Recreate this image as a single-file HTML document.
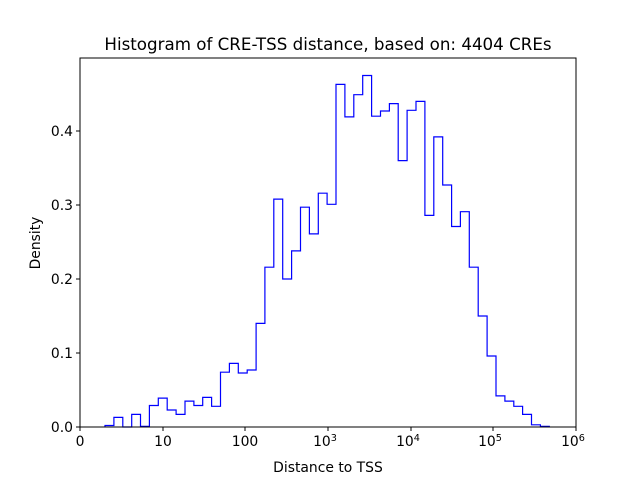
<!DOCTYPE html>
<html><head><meta charset="utf-8"><style>
body{margin:0;background:#fff;}
svg{display:block;font-family:"DejaVu Sans","Liberation Sans",sans-serif;}
</style></head><body>
<svg id="s" width="640" height="480" xmlns="http://www.w3.org/2000/svg">
<rect width="640" height="480" fill="#fff"/>
<text x="328" y="50" font-size="16.7" text-anchor="middle">Histogram of CRE-TSS distance, based on: 4404 CREs</text>
<path id="h" fill="none" stroke="#0000ff" stroke-width="1.2"/>
<rect x="80" y="58" width="496" height="369" fill="none" stroke="#000" stroke-width="1"/>
<g id="t" font-size="13.9"></g>
<text x="328" y="472" font-size="13.9" text-anchor="middle">Distance to TSS</text>
<text transform="translate(40,243) rotate(-90)" font-size="13.9" text-anchor="middle">Density</text>
</svg>
<script>
var v=[0.002,0.013,0,0.017,0.001,0.029,0.039,0.023,0.017,0.035,0.029,0.040,0.028,0.074,0.086,0.073,0.077,0.140,0.216,0.308,0.200,0.238,0.297,0.261,0.316,0.301,0.463,0.419,0.449,0.475,0.420,0.427,0.437,0.360,0.428,0.440,0.286,0.392,0.327,0.271,0.291,0.216,0.150,0.096,0.042,0.035,0.028,0.017,0.003,0.001];
var x0=105,w=8.886,d="M"+x0+",427";
for(var i=0;i<v.length;i++){var y=(427-v[i]*740).toFixed(1);d+=" L"+(x0+i*w).toFixed(1)+","+y+" L"+(x0+(i+1)*w).toFixed(1)+","+y;}
d+=" L"+(x0+50*w).toFixed(1)+",427";
document.getElementById("h").setAttribute("d",d);
var g=document.getElementById("t"),s="";
var xs=[[80,"0"],[163,"10"],[245,"100"],[328,"10","3"],[411,"10","4"],[493,"10","5"],[576,"10","6"]];
xs.forEach(function(a){s+='<line x1="'+a[0]+'" y1="427" x2="'+a[0]+'" y2="431" stroke="#000"/>';
if(a[2])s+='<text x="'+(a[0]-3)+'" y="446" text-anchor="middle">'+a[1]+'<tspan font-size="9.7" dy="-5">'+a[2]+'</tspan></text>';
else s+='<text x="'+a[0]+'" y="446" text-anchor="middle">'+a[1]+'</text>';});
["0.0","0.1","0.2","0.3","0.4"].forEach(function(l,i){var y=427-i*74;s+='<line x1="76" y1="'+y+'" x2="80" y2="'+y+'" stroke="#000"/><text x="73" y="'+(y+5)+'" text-anchor="end">'+l+'</text>';});
g.innerHTML=s;
</script>
</body></html>
